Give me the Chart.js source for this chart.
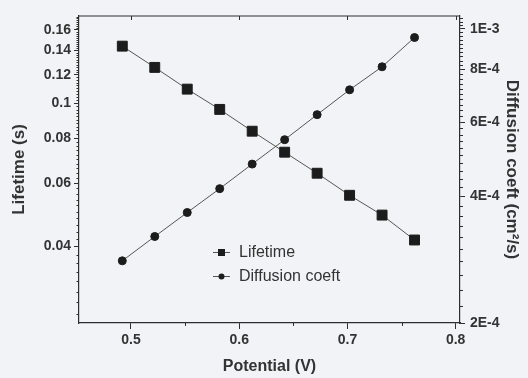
<!DOCTYPE html>
<html>
<head>
<meta charset="utf-8">
<script src="https://cdn.jsdelivr.net/npm/chart.js@4/dist/chart.umd.min.js"></script>
<style>
  html, body { margin: 0; padding: 0; background: #f1f3f6; }
  #wrap { width: 528px; height: 378px; position: relative; }
</style>
</head>
<body>
<div id="wrap"><canvas id="c" width="528" height="378"></canvas></div>
<script>
// ---- data ----
const potential = [0.492, 0.522, 0.552, 0.582, 0.612, 0.642, 0.672, 0.702, 0.732, 0.762];
const lifetime  = [0.1440, 0.1257, 0.1094, 0.0961, 0.0836, 0.0731, 0.0639, 0.0555, 0.0489, 0.0417];
const diffusion = [2.81e-4, 3.21e-4, 3.66e-4, 4.17e-4, 4.77e-4, 5.45e-4, 6.25e-4, 7.16e-4, 8.12e-4, 9.53e-4];

const seriesNames = ['Lifetime', 'Diffusion coeft'];

const xTicks = [0.5, 0.6, 0.7, 0.8];
const xTickLabels = ['0.5', '0.6', '0.7', '0.8'];
const xMinorTicks = [0.55, 0.65, 0.75];

const lifetimeTicks = [0.04, 0.06, 0.08, 0.1, 0.12, 0.14, 0.16];
const lifetimeTickLabels = ['0.04', '0.06', '0.08', '0.1', '0.12', '0.14', '0.16'];

const diffTicks = [2e-4, 4e-4, 6e-4, 8e-4, 1e-3];
const diffTickLabels = ['2E-4', '4E-4', '6E-4', '8E-4', '1E-3'];

// ---- styling ----
const INK = '#2e2e2e';
const tickFont = { family: '"Liberation Sans", Arial, sans-serif', size: 14, weight: 'bold' };
const titleFont = { family: '"Liberation Sans", Arial, sans-serif', size: 16, weight: 'bold' };
const titleFontV = { family: '"Liberation Sans", Arial, sans-serif', size: 17, weight: 'bold' };

function near(a, b) { return Math.abs(a - b) < 1e-9 * Math.max(1, Math.abs(b)) * 1e3 * 0 + Math.abs(b) * 1e-6; }

const framePlugin = {
  id: 'frame',
  afterDraw(chart) {
    const ctx = chart.ctx;
    const a = chart.chartArea;
    const sx = chart.scales.x, sl = chart.scales.yL, sr = chart.scales.yR;
    ctx.save();
    ctx.strokeStyle = INK;
    ctx.lineWidth = 1.2;
    // top border
    ctx.beginPath();
    ctx.moveTo(a.left, a.top);
    ctx.lineTo(a.right, a.top);
    ctx.stroke();
    ctx.lineWidth = 1;
    // top inward ticks at major x
    ctx.beginPath();
    xTicks.forEach(v => {
      const px = Math.round(sx.getPixelForValue(v)) + 0.5;
      ctx.moveTo(px, a.top); ctx.lineTo(px, a.top + 4);
    });
    // x minor ticks (outward)
    xMinorTicks.forEach(v => {
      const px = Math.round(sx.getPixelForValue(v)) + 0.5;
      ctx.moveTo(px, a.bottom); ctx.lineTo(px, a.bottom + 3);
    });
    // left minor ticks every 0.002
    for (let k = 13; k <= 87; k++) {
      const v = k * 0.002;
      if (lifetimeTicks.some(t => Math.abs(t - v) < 1e-9)) continue;
      const py = Math.round(sl.getPixelForValue(v)) + 0.5;
      if (py < a.top || py > a.bottom) continue;
      ctx.moveTo(a.left, py); ctx.lineTo(a.left - 2.5, py);
    }
    // right minor ticks every 2E-5
    for (let k = 11; k <= 53; k++) {
      const v = k * 2e-5;
      if (diffTicks.some(t => Math.abs(t - v) < 1e-12)) continue;
      const py = Math.round(sr.getPixelForValue(v)) + 0.5;
      if (py < a.top || py > a.bottom) continue;
      ctx.moveTo(a.right, py); ctx.lineTo(a.right + 3, py);
    }
    ctx.stroke();

    // legend inside plot
    const lx = a.left + 134;
    const rows = [a.top + 236, a.top + 260];
    ctx.font = '16px "Liberation Sans", Arial, sans-serif';
    ctx.textBaseline = 'middle';
    ctx.textAlign = 'left';
    chart.data.datasets.forEach((ds, i) => {
      const y = rows[i];
      ctx.strokeStyle = '#555';
      ctx.lineWidth = 1;
      ctx.beginPath();
      ctx.moveTo(lx, y + 0.5); ctx.lineTo(lx + 17, y + 0.5);
      ctx.stroke();
      ctx.fillStyle = '#1c1c1c';
      const cx = lx + 8.5;
      if (ds.pointStyle === 'rect') {
        ctx.fillRect(cx - 3.5, y - 3, 7, 7);
      } else {
        ctx.beginPath();
        ctx.arc(cx, y + 0.5, 3, 0, Math.PI * 2);
        ctx.fill();
      }
      ctx.fillStyle = '#333';
      ctx.fillText(ds.label, lx + 26, y + 1);
    });
    ctx.restore();
  }
};

const ds1 = potential.map((x, i) => ({ x: x, y: lifetime[i] }));
const ds2 = potential.map((x, i) => ({ x: x, y: diffusion[i] }));

new Chart(document.getElementById('c'), {
  type: 'line',
  data: {
    datasets: [
      {
        label: seriesNames[0], data: ds1, yAxisID: 'yL',
        borderColor: '#555', borderWidth: 1,
        pointStyle: 'rect', pointRadius: 7, pointHoverRadius: 7,
        pointBackgroundColor: '#1c1c1c', pointBorderColor: '#1c1c1c', pointBorderWidth: 1
      },
      {
        label: seriesNames[1], data: ds2, yAxisID: 'yR',
        borderColor: '#555', borderWidth: 1,
        pointStyle: 'circle', pointRadius: 4, pointHoverRadius: 4,
        pointBackgroundColor: '#1c1c1c', pointBorderColor: '#1c1c1c', pointBorderWidth: 1
      }
    ]
  },
  options: {
    responsive: false,
    animation: false,
    devicePixelRatio: 1,
    layout: { padding: { top: 16, left: 0, right: 0, bottom: 0 } },
    plugins: { legend: { display: false }, tooltip: { enabled: false } },
    scales: {
      x: {
        type: 'linear', min: 0.452, max: 0.804,
        afterBuildTicks: ax => { ax.ticks = xTicks.map(v => ({ value: v })); },
        afterFit: ax => { ax.height = 55; },
        ticks: {
          autoSkip: false, maxRotation: 0, padding: 3, color: '#333', font: tickFont,
          callback: v => { const i = xTicks.findIndex(t => Math.abs(t - v) < 1e-9); return i >= 0 ? xTickLabels[i] : ''; }
        },
        grid: { drawOnChartArea: false, drawTicks: true, tickLength: 6, color: INK, lineWidth: 1 },
        border: { display: true, color: INK, width: 1.2 },
        title: { display: true, text: 'Potential (V)', color: '#333', font: titleFont, padding: { top: 0, bottom: 2 } }
      },
      yL: {
        type: 'logarithmic', position: 'left', min: 0.02453, max: 0.1746,
        afterBuildTicks: ax => { ax.ticks = lifetimeTicks.map(v => ({ value: v })); },
        afterFit: ax => { ax.width = 79; },
        ticks: {
          autoSkip: false, padding: 3, color: '#333', font: tickFont,
          callback: v => { const i = lifetimeTicks.findIndex(t => Math.abs(t - v) < 1e-9); return i >= 0 ? lifetimeTickLabels[i] : ''; }
        },
        grid: { drawOnChartArea: false, drawTicks: true, tickLength: 5, color: INK, lineWidth: 1 },
        border: { display: true, color: INK, width: 1.2 },
        title: { display: true, text: 'Lifetime (s)', color: '#333', font: titleFontV, padding: { top: 9, bottom: 0 } }
      },
      yR: {
        type: 'logarithmic', position: 'right', min: 2e-4, max: 1.072e-3,
        afterBuildTicks: ax => { ax.ticks = diffTicks.map(v => ({ value: v })); },
        afterFit: ax => { ax.width = 68; },
        ticks: {
          autoSkip: false, padding: 5, color: '#333', font: tickFont,
          callback: v => { const i = diffTicks.findIndex(t => Math.abs(t - v) < 1e-12); return i >= 0 ? diffTickLabels[i] : ''; }
        },
        grid: { drawOnChartArea: false, drawTicks: true, tickLength: 5, color: INK, lineWidth: 1 },
        border: { display: true, color: INK, width: 1.2 },
        title: { display: true, text: 'Diffusion coeft (cm\u00B2/s)', color: '#333', font: titleFontV, padding: { top: 6, bottom: 0 } }
      }
    }
  },
  plugins: [framePlugin]
});
</script>
</body>
</html>
